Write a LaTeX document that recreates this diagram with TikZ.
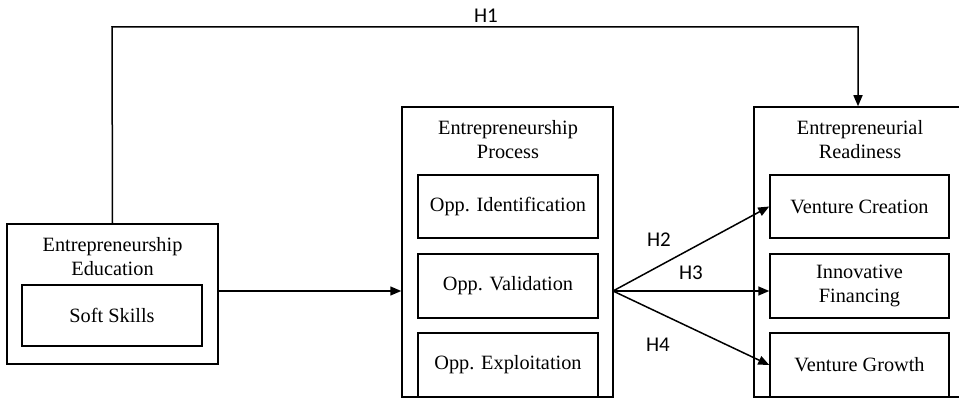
\documentclass[tikz,border=0pt]{standalone}
\usepackage{fontspec}
\setmainfont{Liberation Serif}
\newfontfamily\lblfont{Carlito}
\usetikzlibrary{arrows.meta,calc}
\begin{document}
\begin{tikzpicture}[x=1pt,y=-1pt,
  box/.style={draw=black,line width=1.5pt,minimum width=#1,inner sep=0pt,align=center,font=\fontsize{20.3}{24}\selectfont},
  ttl/.style={align=center,inner sep=0pt,font=\fontsize{20.3}{24}\selectfont},
  hl/.style={inner sep=0pt,font=\lblfont\fontsize{21}{24}\selectfont},
  arr/.style={line width=1.5pt,-{Triangle[length=11pt,width=9pt]}}]
\useasboundingbox (0,0) rectangle (959,398);
% left
\node[box=211pt,minimum height=140pt] (lo) at (112.5,294) {};
\node[ttl] (lt) at (112.5,257) {Entrepreneurship\\Education};
\node[box=180pt,minimum height=61pt] (ss) at (112,315.5) {Soft Skills};
% middle
\node[box=211pt,minimum height=290pt] (mo) at (507.5,252) {};
\node[ttl] (mt) at (508,140) {Entrepreneurship\\Process};
\node[box=180pt,minimum height=63pt] (oi) at (508,206.5) {Opp. Identification};
\node[box=180pt,minimum height=64pt] (ov) at (508,286) {Opp. Validation};
\node[box=180pt,minimum height=64pt] (oe) at (508,365) {Opp. Exploitation};
% right
\node[box=208pt,minimum height=290pt] (ro) at (858,252) {};
\node[ttl] (rt) at (860,140) {Entrepreneurial\\Readiness};
\node[box=179pt,minimum height=63pt] (vc) at (859.5,206.5) {Venture Creation};
\node[box=179pt,minimum height=64pt] (fi) at (859.5,286) {Innovative\\Financing};
\node[box=179pt,minimum height=64pt] (vg) at (859.5,365) {Venture Growth};
% connectors
\coordinate (fan) at (613,291);
\coordinate (top) at (112,27);
\draw[arr] (lo.north) -- (top) -- (top -| ro.north) -- (ro.north);
\draw[arr] (lo.east |- fan) -- (mo.west |- fan);
\draw[arr] (fan) -- (vc.west);
\draw[arr] (fan) -- (fi.west |- fan);
\draw[arr] (fan) -- (vg.west);
% labels
\node[hl] (h1) at (486,16) {H1};
\node[hl] (h2) at (659,240) {H2};
\node[hl] (h3) at (691,273) {H3};
\node[hl] (h4) at (658,345) {H4};
\end{tikzpicture}
\end{document}
